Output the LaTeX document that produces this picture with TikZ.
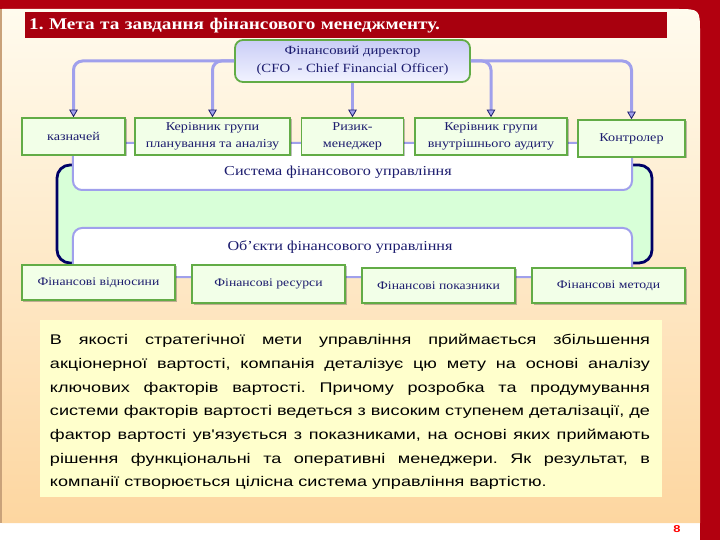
\documentclass[tikz,border=0pt]{standalone}
\usepackage{fontspec}
\setmainfont{Liberation Serif}[FakeStretch=1.18]
\newfontfamily\sansf{Liberation Sans}[FakeStretch=1.29]
\usetikzlibrary{arrows.meta,shadows}
\definecolor{slidered}{HTML}{B2000F}
\definecolor{titlered}{HTML}{A8000E}
\definecolor{creamtop}{HTML}{FFFBEE}
\definecolor{creambot}{HTML}{FDD6A0}
\definecolor{navy}{HTML}{1C1C6E}
\definecolor{lav}{HTML}{A0A0EC}
\definecolor{boxgreen}{HTML}{62AC46}
\definecolor{boxfill}{HTML}{F2FFE8}
\definecolor{mint}{HTML}{D8FFD8}
\definecolor{deepnavy}{HTML}{000066}
\definecolor{paper}{HTML}{FFFFCC}
\definecolor{cfotop}{HTML}{C9CDF6}
\definecolor{cfobot}{HTML}{F2F3FF}
\definecolor{edge}{HTML}{C9A27A}
\newcommand{\jline}[1]{\makebox[600bp][s]{#1}}
\frenchspacing
\begin{document}
\begin{tikzpicture}[x=1bp,y=-1bp,
  gbox/.style={draw=boxgreen, line width=1.6bp, fill=boxfill, text=navy, align=center, inner sep=1bp,
    font=\fontsize{12bp}{17bp}\selectfont,
    drop shadow={shadow xshift=1.5bp,shadow yshift=-1.5bp,fill=black,opacity=0.25}},
  conn/.style={draw=lav, line width=3bp, rounded corners=9bp,
    -{Triangle[width=8.5bp,length=7.5bp,line width=0.8bp,color=navy,fill=lav]}},
  panel/.style={draw=lav, line width=2bp, fill=white, rounded corners=9bp, inner sep=0},
  lbl/.style={text=navy, font=\fontsize{13.7bp}{16bp}\selectfont}
]
\useasboundingbox (0,0) rectangle (720,540);
% background
\fill[slidered] (0,0) rectangle (720,540);
\fill[white] (0,523) rectangle (700,540);
\shade[top color=creamtop, bottom color=creambot]
  (2,523) -- (2,9) -- (676,9) .. controls (700,9) .. (700,33) -- (700,523) -- cycle;
\fill[edge] (0,9) rectangle (2,523);
% title
\node[anchor=north west, fill=titlered, minimum height=26bp, text width=634bp, inner xsep=4bp,
  text=white, font=\bfseries\fontsize{16.3bp}{18bp}\selectfont] (title) at (25,12)
  {1. Мета та завдання фінансового менеджменту.};
% frames
\node[draw=deepnavy, line width=2.8bp, fill=mint, rounded corners=13bp,
  minimum width=595bp, minimum height=98bp, inner sep=0] (frame) at (354.5,214) {};
\node[panel, minimum width=559bp, minimum height=47bp] (sys) at (352.5,166.5) {};
\node[lbl] (systxt) at (338,172) {Система фінансового управління};
\node[panel, minimum width=559bp, minimum height=49bp] (obj) at (352.5,252.5) {};
\node[lbl] (objtxt) at (340,247) {Об'єкти фінансового управління};
% director
\node[draw=boxgreen, line width=1.8bp, rounded corners=8bp, top color=cfotop, bottom color=cfobot,
  minimum width=235bp, minimum height=42bp, align=center, text=navy,
  font=\fontsize{12.5bp}{18bp}\selectfont, inner sep=1bp] (cfo) at (352.5,61)
  {Фінансовий директор\\(CFO\ \ - Chief Financial Officer)};
% row 1
\node[gbox, minimum width=103bp, minimum height=37bp] (kaz) at (73.5,136.5) {казначей};
\node[gbox, minimum width=155bp, minimum height=37bp] (plan) at (212.5,136.5) {Керівник групи\\планування та аналізу};
\node[gbox, minimum width=102bp, minimum height=37bp] (risk) at (352.5,136.5) {Ризик-\\менеджер};
\node[gbox, minimum width=152bp, minimum height=37bp] (audit) at (491,136.5) {Керівник групи\\внутрішнього аудиту};
\node[gbox, minimum width=107bp, minimum height=37bp] (ctrl) at (631.5,138.5) {Контролер};
% connectors
\draw[conn] (cfo.west) -| (kaz.north);
\draw[conn] (cfo.west) -| (plan.north);
\draw[conn] (cfo.south) -- (risk.north);
\draw[conn] (cfo.east) -| (audit.north);
\draw[conn] (cfo.east) -| (ctrl.north);
% row 2
\node[gbox, minimum width=153bp, minimum height=35bp, font=\fontsize{11.6bp}{14bp}\selectfont] (rel) at (98.5,282.5) {Фінансові відносини};
\node[gbox, minimum width=153bp, minimum height=38bp, font=\fontsize{11.6bp}{14bp}\selectfont] (res) at (268.5,284) {Фінансові ресурси};
\node[gbox, minimum width=153bp, minimum height=35bp, font=\fontsize{11.6bp}{14bp}\selectfont] (ind) at (438.5,285.5) {Фінансові показники};
\node[gbox, minimum width=153bp, minimum height=35bp, font=\fontsize{11.6bp}{14bp}\selectfont] (meth) at (608.5,285.5) {Фінансові методи};
% text
\node[fill=paper, minimum width=622bp, minimum height=177bp, inner sep=0] (note) at (351,408.5) {};
\node[inner sep=0, align=left, font=\sansf\fontsize{14bp}{23.7bp}\selectfont\frenchspacing] (notetxt) at (350,412)
{\jline{В якості стратегічної мети управління приймається збільшення}\\
\jline{акціонерної вартості, компанія деталізує цю мету на основі аналізу}\\
\jline{ключових факторів вартості. Причому розробка та продумування}\\
\jline{системи факторів вартості ведеться з високим ступенем деталізації, де}\\
\jline{фактор вартості ув'язується з показниками, на основі яких приймають}\\
\jline{рішення функціональні та оперативні менеджери. Як результат, в}\\
\makebox[600bp][l]{компанії створюється цілісна система управління вартістю.}};
\node[text=red, font=\sansf\bfseries\fontsize{10bp}{11bp}\selectfont] (pnum) at (677,529) {8};
\end{tikzpicture}
\end{document}
